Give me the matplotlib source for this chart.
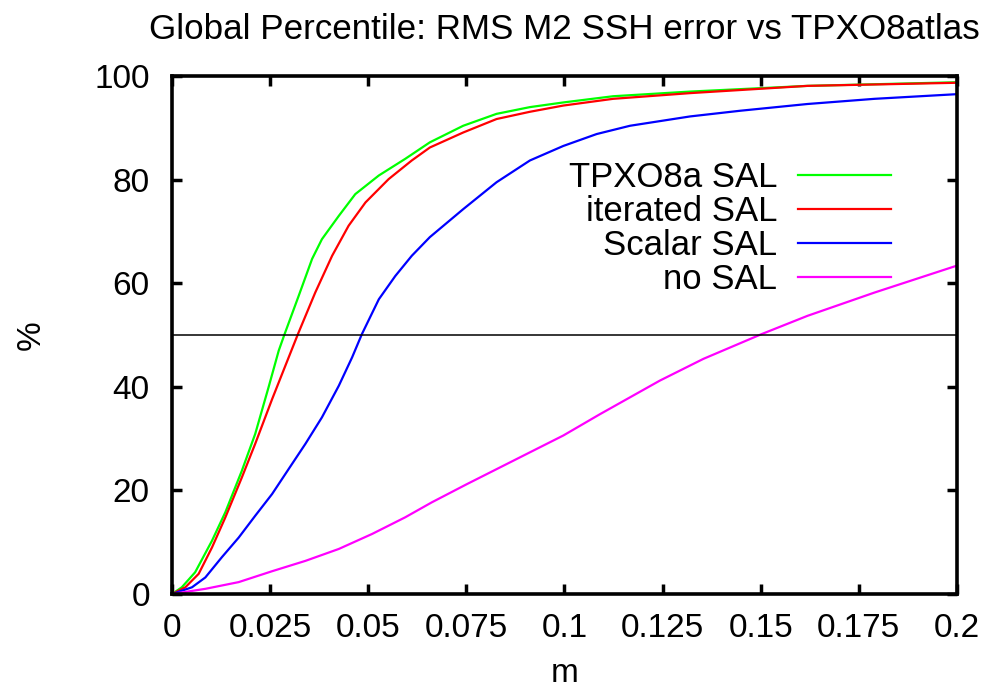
"""
Global percentile of RMS M2 SSH error vs TPXO8atlas, for different SAL treatments.
"""
import matplotlib
matplotlib.use('Agg')
import matplotlib.pyplot as plt

# values (x in m, y in %)
tpxo_x = [0, 0.0025, 0.0059, 0.0102, 0.0136, 0.0178, 0.0212, 0.0246, 0.0272, 0.0287, 0.0323,
          0.0357, 0.0382, 0.0425, 0.0467, 0.0527, 0.0594, 0.0657, 0.0742, 0.0827, 0.0912,
          0.0997, 0.1124, 0.132, 0.1619, 0.2]
tpxo_y = [0, 1.3, 4.2, 10.3, 15.8, 23.8, 30.9, 39.9, 47.0, 50.2, 57.6,
          64.7, 68.5, 73.0, 77.2, 80.8, 84.0, 87.2, 90.4, 92.7, 94.0,
          94.9, 96.1, 97.0, 98.1, 98.8]

iter_x = [0, 0.0034, 0.0068, 0.0102, 0.0136, 0.0178, 0.0212, 0.0255, 0.0289, 0.0321, 0.0365,
          0.0408, 0.045, 0.0493, 0.0552, 0.0611, 0.0657, 0.0742, 0.0827, 0.0912, 0.0997,
          0.1124, 0.132, 0.1619, 0.2]
iter_y = [0, 1.3, 3.9, 9.0, 14.8, 22.5, 29.0, 37.6, 44.1, 50.2, 58.2,
          65.3, 71.1, 75.6, 80.1, 83.7, 86.2, 89.1, 91.7, 93.1, 94.3,
          95.6, 96.7, 98.1, 98.7]

scalar_x = [0, 0.0051, 0.0085, 0.0127, 0.017, 0.0212, 0.0255, 0.0297, 0.034, 0.0382, 0.0425,
            0.0459, 0.0484, 0.0527, 0.0569, 0.0611, 0.0657, 0.0742, 0.0827, 0.0912, 0.0997,
            0.1082, 0.1167, 0.1252, 0.132, 0.1448, 0.1619, 0.179, 0.2]
scalar_y = [0, 1.3, 3.2, 7.1, 10.9, 15.1, 19.3, 24.1, 29.0, 34.1, 40.2,
            45.7, 50.2, 56.9, 61.4, 65.3, 68.9, 74.3, 79.5, 83.7, 86.5,
            88.8, 90.4, 91.4, 92.2, 93.3, 94.6, 95.6, 96.5]

nosal_x = [0, 0.0085, 0.017, 0.0255, 0.034, 0.0425, 0.051, 0.0594, 0.0662, 0.0751, 0.0921,
           0.0997, 0.109, 0.1243, 0.1354, 0.1503, 0.1619, 0.179, 0.2]
nosal_y = [0, 1.0, 2.3, 4.4, 6.4, 8.7, 11.6, 14.8, 17.7, 21.2, 27.7,
           30.6, 34.7, 41.2, 45.4, 50.2, 53.7, 58.2, 63.4]

labels = ['TPXO8a SAL', 'iterated SAL', 'Scalar SAL', 'no SAL']
colors = ['#00ff00', '#ff0000', '#0000ff', '#ff00ff']

xticks = [0, 0.025, 0.05, 0.075, 0.1, 0.125, 0.15, 0.175, 0.2]
xticklabels = ['0', '0.025', '0.05', '0.075', '0.1', '0.125', '0.15', '0.175', '0.2']
yticks = [0, 20, 40, 60, 80, 100]

plt.rcParams['font.family'] = ['Liberation Sans', 'DejaVu Sans']
plt.rcParams['font.size'] = 21


def main():
    fig = plt.figure(figsize=(9.89, 6.95), dpi=100)
    ax = fig.add_axes([0.1739, 0.1453, 0.7937, 0.7453])

    series = [(tpxo_x, tpxo_y), (iter_x, iter_y), (scalar_x, scalar_y), (nosal_x, nosal_y)]
    for (x, y), lab, c in zip(series, labels, colors):
        ax.plot(x, y, color=c, lw=1.6, label=lab)
    ax.axhline(50, color='black', lw=1.1)

    ax.set_xlim(0, 0.2)
    ax.set_ylim(0, 100)
    ax.set_xticks(xticks)
    ax.set_xticklabels(xticklabels)
    ax.set_yticks(yticks)
    ax.tick_params(direction='in', length=7, width=2.5, top=True, right=True, labelsize=24)
    ax.tick_params(axis='x', pad=14)
    ax.tick_params(axis='y', pad=16)
    for s in ax.spines.values():
        s.set_linewidth(2.6)

    ax.set_xlabel('m', labelpad=10, fontsize=24)
    ax.set_ylabel('%', labelpad=34, fontsize=24)
    ax.set_title('Global Percentile: RMS M2 SSH error vs TPXO8atlas', pad=27)

    ax.legend(loc='upper right', bbox_to_anchor=(0.916, 0.836), frameon=False,
              markerfirst=False, handlelength=2.68, handletextpad=0.6,
              labelspacing=0.03, borderpad=0, borderaxespad=0, fontsize=25)

    fig.savefig('out.png', dpi=100)
    plt.close(fig)


if __name__ == '__main__':
    main()
